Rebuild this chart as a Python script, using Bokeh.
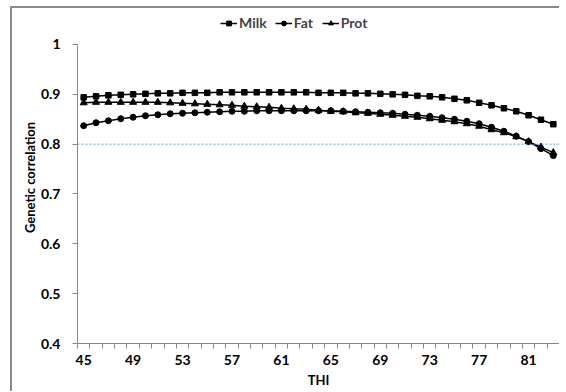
from bokeh.plotting import figure
from bokeh.models import FixedTicker, Span, Legend, LegendItem
from bokeh.layouts import column
from bokeh.embed import file_html
from bokeh.resources import INLINE

thi = list(range(45, 84))
milk = [0.894, 0.896, 0.898, 0.899, 0.900, 0.901, 0.902, 0.902, 0.903, 0.903,
        0.903, 0.904, 0.904, 0.904, 0.904, 0.904, 0.904, 0.904, 0.904, 0.903,
        0.903, 0.903, 0.902, 0.902, 0.901, 0.900, 0.899, 0.897, 0.896, 0.894,
        0.891, 0.888, 0.883, 0.878, 0.872, 0.866, 0.858, 0.849, 0.840]
fat = [0.837, 0.843, 0.847, 0.851, 0.854, 0.857, 0.859, 0.861, 0.862, 0.863,
       0.864, 0.865, 0.866, 0.866, 0.867, 0.867, 0.867, 0.867, 0.867, 0.867,
       0.867, 0.866, 0.865, 0.864, 0.863, 0.862, 0.860, 0.858, 0.856, 0.853,
       0.850, 0.846, 0.841, 0.834, 0.826, 0.816, 0.805, 0.791, 0.777]
prot = [0.883, 0.884, 0.884, 0.884, 0.884, 0.884, 0.884, 0.883, 0.882, 0.881,
        0.880, 0.879, 0.878, 0.876, 0.875, 0.874, 0.872, 0.871, 0.870, 0.868,
        0.866, 0.865, 0.863, 0.862, 0.860, 0.858, 0.856, 0.854, 0.851, 0.848,
        0.845, 0.841, 0.836, 0.829, 0.823, 0.815, 0.805, 0.794, 0.783]
x_labels = [45, 49, 53, 57, 61, 65, 69, 73, 77, 81]
y_ticks = [0.4, 0.5, 0.6, 0.7, 0.8, 0.9, 1.0]
threshold = 0.8

FONT = "Lato"
AX = "#868686"

# frame extended above 1.0 to leave room for the legend inside the canvas
p = figure(width=547, height=383, output_backend="svg", toolbar_location=None,
           x_range=(44.5, 83.5), y_range=(0.4, 1.0662),
           min_border_left=65, min_border_right=0, min_border_top=3, min_border_bottom=48)
p.outline_line_color = None
p.xgrid.visible = False
p.ygrid.visible = False
p.background_fill_color = "white"

# x axis
p.xaxis.ticker = FixedTicker(ticks=x_labels, minor_ticks=[t - 0.5 for t in thi] + [83.5])
p.xaxis.major_tick_out = 0
p.xaxis.major_tick_in = 0
p.xaxis.minor_tick_out = 5
p.xaxis.minor_tick_in = 0
p.xaxis.minor_tick_line_color = AX
p.xaxis.axis_line_color = AX
p.xaxis.axis_label = "THI"
p.xaxis.major_label_standoff = 6
p.xaxis.axis_label_standoff = 4

# y axis
p.yaxis.ticker = FixedTicker(ticks=y_ticks)
p.yaxis.bounds = (0.4, 1.0)
p.yaxis.major_label_overrides = {1: "1", 1.0: "1"}
p.yaxis.major_tick_out = 5
p.yaxis.major_tick_in = 0
p.yaxis.minor_tick_out = 0
p.yaxis.minor_tick_in = 0
p.yaxis.major_tick_line_color = AX
p.yaxis.axis_line_color = AX
p.yaxis.axis_label = "Genetic correlation"
p.yaxis.major_label_standoff = 12
p.yaxis.axis_label_standoff = 0

for ax in (p.xaxis, p.yaxis):
    ax.major_label_text_font = FONT
    ax.major_label_text_font_style = "bold"
    ax.major_label_text_font_size = "14px"
    ax.major_label_text_color = "black"
    ax.axis_label_text_font = FONT
    ax.axis_label_text_font_style = "bold"
    ax.axis_label_text_font_size = "13px"
    ax.axis_label_text_color = "black"

p.add_layout(Span(location=threshold, dimension="width", line_color="#5B9BD5",
                  line_dash="2 2", line_width=1))

l1 = p.line(thi, milk, line_color="black", line_width=1.5)
m1 = p.scatter(thi, milk, marker="square", size=5.5, color="black")
l2 = p.line(thi, fat, line_color="black", line_width=1.5)
m2 = p.scatter(thi, fat, marker="circle", size=6, color="black")
l3 = p.line(thi, prot, line_color="black", line_width=1.5)
m3 = p.scatter(thi, prot, marker="triangle", size=7, color="black")

legend = Legend(items=[LegendItem(label="Milk", renderers=[l1, m1]),
                       LegendItem(label="Fat", renderers=[l2, m2]),
                       LegendItem(label="Prot", renderers=[l3, m3])],
                orientation="horizontal", location=(143, 312),
                padding=2, margin=0, spacing=8, glyph_width=17, glyph_height=12,
                label_standoff=2, label_text_font=FONT, label_text_font_style="bold",
                label_text_font_size="14px", border_line_color=None,
                background_fill_alpha=0)
p.add_layout(legend, "center")

layout = column(p, margin=(6, 0, 0, 10),
                styles={"border-left": "2px solid #8a8a8a", "border-top": "2px solid #8a8a8a"})

open("out.html", "w").write(file_html(layout, INLINE))
